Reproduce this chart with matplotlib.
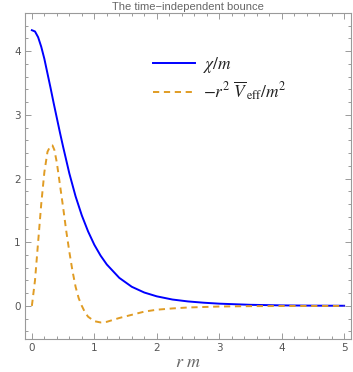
import matplotlib
matplotlib.use('Agg')
import matplotlib.pyplot as plt
import matplotlib.ticker as ticker

# values
r_chi = [0, 0.05, 0.1, 0.15, 0.2, 0.25, 0.3, 0.35, 0.4, 0.45, 0.5, 0.6, 0.7, 0.8, 0.9,
         1.0, 1.1, 1.2, 1.4, 1.6, 1.8, 2.0, 2.25, 2.5, 2.75, 3.0, 3.5, 4.0, 4.5, 5.0]
chi_over_m = [4.33, 4.31, 4.22, 4.07, 3.88, 3.65, 3.42, 3.18, 2.95, 2.72, 2.5, 2.08, 1.72, 1.42, 1.17,
              0.96, 0.79, 0.65, 0.44, 0.30, 0.21, 0.15, 0.10, 0.07, 0.05, 0.035, 0.017, 0.008, 0.004, 0.002]

r_v = [0, 0.05, 0.1, 0.15, 0.2, 0.25, 0.3, 0.33, 0.36, 0.4, 0.45, 0.5, 0.55, 0.6, 0.65, 0.7,
       0.75, 0.8, 0.85, 0.9, 1.0, 1.1, 1.2, 1.4, 1.6, 1.8, 2.0, 2.25, 2.5, 3.0, 3.5, 4.0, 5.0]
veff = [0, 0.4, 1.0, 1.6, 2.1, 2.42, 2.52, 2.52, 2.45, 2.25, 1.9, 1.55, 1.18, 0.85, 0.55, 0.3,
        0.12, 0.0, -0.1, -0.17, -0.24, -0.26, -0.25, -0.19, -0.14, -0.09, -0.06, -0.04, -0.025,
        -0.01, -0.004, -0.002, 0]

plt.rcParams['mathtext.fontset'] = 'stix'

fig = plt.figure(figsize=(3.53, 3.72), dpi=100)
ax = fig.add_axes([25 / 353, 1 - 339 / 372, 326 / 353, 326 / 372])

ax.plot(r_chi, chi_over_m, color='#0000ff', linewidth=1.4, label=r'$\chi/m$')
ax.plot(r_v, veff, color='#e09c24', linewidth=1.4, dashes=(3.2, 2.4),
        label=r'$-r^2\ \overline{V}_{\,\mathrm{eff}}/m^2$')

ax.set_xlim(-0.11, 5.11)
ax.set_ylim(-0.52, 4.6)

# Mathematica-like frame
frame_col = '#9a9a9a'
for s in ax.spines.values():
    s.set_color(frame_col)
    s.set_linewidth(0.8)
ax.xaxis.set_major_locator(ticker.MultipleLocator(1))
ax.xaxis.set_minor_locator(ticker.MultipleLocator(0.2))
ax.yaxis.set_major_locator(ticker.MultipleLocator(1))
ax.yaxis.set_minor_locator(ticker.MultipleLocator(0.2))
ax.tick_params(which='both', direction='in', top=True, right=True, color=frame_col, width=0.7)
ax.tick_params(which='major', length=4, labelsize=7.5, labelcolor='#555555', pad=3)
ax.tick_params(which='minor', length=2)

ax.set_xlabel(r'$r\ m$', fontsize=13, color='#666666', labelpad=0)
ax.set_title('The time\u2212independent bounce', fontsize=8, color='#666666',
             family='Liberation Sans', pad=2)

leg = ax.legend(loc='upper left', bbox_to_anchor=(0.393, 0.87), frameon=False, fontsize=12.5,
                handlelength=2.4, handletextpad=0.45, labelspacing=0.25,
                borderpad=0, borderaxespad=0)
for t in leg.get_texts():
    t.set_color('#222222')

fig.savefig('out.png', dpi=100)
